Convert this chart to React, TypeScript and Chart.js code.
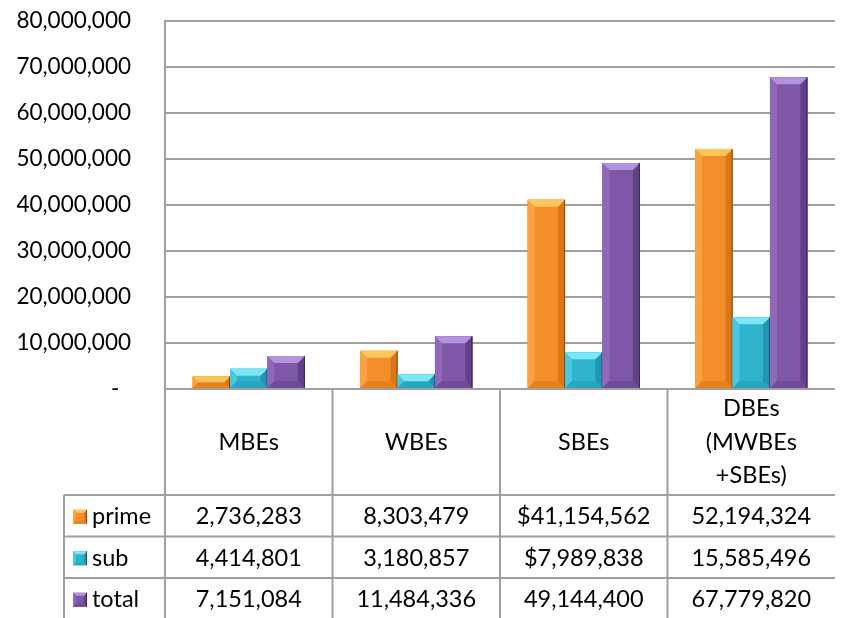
import React, { useEffect, useRef } from "react";
import { Chart, registerables } from "chart.js";

Chart.register(...registerables);

const categories: string[][] = [["MBEs"], ["WBEs"], ["SBEs"], ["DBEs", "(MWBEs", "+SBEs)"]];
const seriesNames = ["prime", "sub", "total"];
const primeValues = [2736283, 8303479, 41154562, 52194324];
const subValues = [4414801, 3180857, 7989838, 15585496];
const totalValues = [7151084, 11484336, 49144400, 67779820];
const primeLabels = ["2,736,283", "8,303,479", "$41,154,562", "52,194,324"];
const subLabels = ["4,414,801", "3,180,857", "$7,989,838", "15,585,496"];
const totalLabels = ["7,151,084", "11,484,336", "49,144,400", "67,779,820"];
const yMax = 80000000;
const yStep = 10000000;

const FONT = "Lato, 'Open Sans', sans-serif";
const GRID = "#A0A0A0";

const palette = [
  { base: "#F48E2A", top: "#FFC65C", left: "#F9A242", right: "#D9761A", bottom: "#E5821F", edge: "#8A4A0E" },
  { base: "#30B4CE", top: "#7BE6F7", left: "#4AC6DE", right: "#2196AE", bottom: "#2AA5BE", edge: "#14606F" },
  { base: "#7E57A7", top: "#B193DE", left: "#9068BA", right: "#62418A", bottom: "#6E4C97", edge: "#3A2554" },
];

function bevelRect(ctx: CanvasRenderingContext2D, x0: number, y0: number, x1: number, y1: number, c: any, bsz: number) {
  const h = y1 - y0;
  const w = x1 - x0;
  const b = Math.max(1, Math.min(bsz, h / 2, w / 2));
  ctx.save();
  ctx.fillStyle = c.base;
  ctx.fillRect(x0, y0, w, h);
  const poly = (pts: number[][], col: string) => {
    ctx.beginPath();
    ctx.moveTo(pts[0][0], pts[0][1]);
    for (let i = 1; i < pts.length; i++) ctx.lineTo(pts[i][0], pts[i][1]);
    ctx.closePath();
    ctx.fillStyle = col;
    ctx.fill();
  };
  poly([[x0, y0], [x0 + b, y0 + b], [x0 + b, y1 - b], [x0, y1]], c.left);
  poly([[x1, y0], [x1 - b, y0 + b], [x1 - b, y1 - b], [x1, y1]], c.right);
  poly([[x0, y1], [x0 + b, y1 - b], [x1 - b, y1 - b], [x1, y1]], c.bottom);
  poly([[x0, y0], [x1, y0], [x1 - b, y0 + b], [x0 + b, y0 + b]], c.top);
  ctx.strokeStyle = c.edge;
  ctx.lineWidth = 1;
  ctx.beginPath();
  ctx.moveTo(x1 - 0.5, y0);
  ctx.lineTo(x1 - 0.5, y1);
  ctx.stroke();
  ctx.restore();
}

const bevelPlugin = {
  id: "bevel",
  afterDatasetsDraw(chart: any) {
    const ctx = chart.ctx;
    chart.data.datasets.forEach((_: any, di: number) => {
      const meta = chart.getDatasetMeta(di);
      meta.data.forEach((el: any) => {
        const p = el.getProps(["x", "y", "base", "width"], true);
        bevelRect(ctx, p.x - p.width / 2, Math.min(p.y, p.base), p.x + p.width / 2, Math.max(p.y, p.base), palette[di], 7);
      });
    });
  },
};

const tablePlugin = {
  id: "dataTable",
  afterDraw(chart: any) {
    const ctx = chart.ctx as CanvasRenderingContext2D;
    const xs = chart.scales.x;
    const area = chart.chartArea;
    const n = categories.length;
    const colW = (area.right - area.left) / n;
    const headerTop = area.bottom;
    const headerBottom = 495;
    const rowH = 41.5;
    const rowTops = [headerBottom, headerBottom + rowH, headerBottom + 2 * rowH];
    const legendLeft = 64;
    const bottom = chart.height;
    ctx.save();
    ctx.strokeStyle = GRID;
    ctx.lineWidth = 2;
    ctx.beginPath();
    rowTops.forEach((y) => {
      ctx.moveTo(legendLeft, y);
      ctx.lineTo(area.right, y);
    });
    ctx.moveTo(legendLeft, headerBottom);
    ctx.lineTo(legendLeft, bottom);
    ctx.moveTo(area.left, headerTop);
    ctx.lineTo(area.left, bottom);
    for (let i = 1; i < n; i++) {
      const x = xs.getPixelForValue(i) - colW / 2;
      ctx.moveTo(x, headerTop);
      ctx.lineTo(x, bottom);
    }
    ctx.stroke();

    ctx.fillStyle = "#000";
    ctx.font = `23.5px ${FONT}`;
    ctx.textAlign = "center";
    ctx.textBaseline = "middle";
    const hMid = (headerTop + headerBottom) / 2;
    const lh = 33.5;
    categories.forEach((lines, i) => {
      const cx = xs.getPixelForValue(i);
      lines.forEach((ln, j) => {
        ctx.fillText(ln, cx, hMid + (j - (lines.length - 1) / 2) * lh);
      });
    });
    const rows = [primeLabels, subLabels, totalLabels];
    rows.forEach((labels, r) => {
      const cy = rowTops[r] + rowH / 2 + 1;
      labels.forEach((t, i) => {
        ctx.textAlign = "center";
        ctx.fillText(t, xs.getPixelForValue(i), cy);
      });
      bevelRect(ctx, 73, cy - 7, 87, cy + 7, palette[r], 3);
      ctx.textAlign = "left";
      ctx.fillText(seriesNames[r], 92, cy);
    });
    ctx.restore();
  },
};

export default function App() {
  const ref = useRef<HTMLCanvasElement | null>(null);
  useEffect(() => {
    document.body.style.margin = "0";
    const yTicks: number[] = [];
    for (let v = 0; v <= yMax; v += yStep) yTicks.push(v);
    const chart = new Chart(ref.current as HTMLCanvasElement, {
      type: "bar",
      data: {
        labels: categories.map((c) => c.join(" ")),
        datasets: [
          { label: seriesNames[0], data: primeValues, backgroundColor: palette[0].base },
          { label: seriesNames[1], data: subValues, backgroundColor: palette[1].base },
          { label: seriesNames[2], data: totalValues, backgroundColor: palette[2].base },
        ],
      },
      options: {
        responsive: false,
        animation: false,
        devicePixelRatio: 1,
        layout: { padding: { left: 0, right: 7, top: 21, bottom: 229 } },
        datasets: { bar: { barPercentage: 1, categoryPercentage: 0.67 } },
        plugins: { legend: { display: false }, tooltip: { enabled: false }, title: { display: false } },
        scales: {
          x: { display: false },
          y: {
            min: 0,
            max: yMax,
            afterFit: (s: any) => {
              s.width = 165;
              s.paddingTop = 0;
              s.paddingBottom = 0;
            },
            afterBuildTicks: (s: any) => {
              s.ticks = yTicks.map((v) => ({ value: v }));
            },
            grid: { color: GRID, lineWidth: 2, drawTicks: false },
            border: { color: GRID, width: 2 },
            ticks: {
              padding: 34,
              color: "#000",
              font: { family: FONT, size: 22.5 },
              callback: (v: any) => (Number(v) === 0 ? "-  " : Number(v).toLocaleString("en-US")),
            },
          },
        },
      },
      plugins: [bevelPlugin, tablePlugin],
    });
    return () => chart.destroy();
  }, []);
  return (
    <div style={{ width: 842, height: 618, overflow: "hidden", background: "#fff" }}>
      <canvas ref={ref} width={842} height={618} style={{ display: "block" }} />
    </div>
  );
}
